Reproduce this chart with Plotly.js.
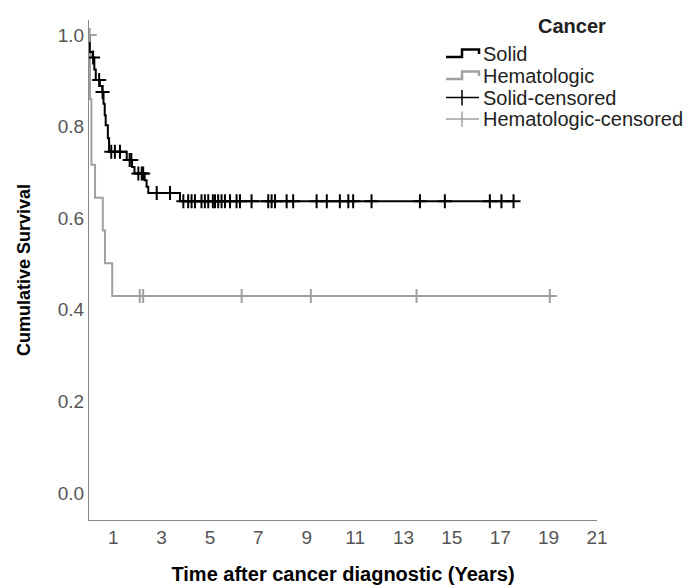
<!DOCTYPE html>
<html>
<head>
<meta charset="utf-8">
<script src="https://cdn.plot.ly/plotly-3.0.1.min.js"></script>
<style>html,body{margin:0;padding:0;background:#fff;}#chart{width:699px;height:588px;}</style>
</head>
<body>
<div id="chart"></div>
<script>
// Kaplan-Meier step curves (time in years, cumulative survival)
const solidTimes = [0, 0.03, 0.15, 0.22, 0.28, 0.45, 0.55, 0.60, 0.65, 0.69, 0.78, 0.83, 1.56, 1.78, 1.88, 2.30, 2.38, 2.45, 3.76, 17.55];
const solidSurv  = [1.0, 0.963, 0.951, 0.925, 0.902, 0.889, 0.876, 0.85, 0.825, 0.803, 0.775, 0.745, 0.727, 0.712, 0.698, 0.683, 0.669, 0.655, 0.637, 0.637];
const hemeTimes = [0, 0.04, 0.10, 0.25, 0.57, 0.66, 0.96, 19.05];
const hemeSurv  = [1.0, 0.86, 0.717, 0.645, 0.573, 0.502, 0.43, 0.43];
// censoring times
const solidCensored = [0.17, 0.42, 0.56, 0.92, 1.07, 1.28, 1.68, 1.75, 2.04, 2.18, 2.24, 2.80, 3.35,
  3.90, 4.10, 4.24, 4.38, 4.65, 4.79, 4.93, 5.12, 5.21, 5.34, 5.48, 5.62, 5.83, 6.10, 6.24, 6.72,
  7.41, 7.55, 7.69, 8.17, 8.44, 9.41, 9.83, 10.37, 10.72, 10.92, 11.68, 13.68, 14.71, 16.57, 17.05, 17.55];
const hemeCensored = [0.03, 2.10, 2.24, 6.31, 9.17, 13.54, 19.05];
const xTicks = [1, 3, 5, 7, 9, 11, 13, 15, 17, 19, 21];
const yTicks = [0.0, 0.2, 0.4, 0.6, 0.8, 1.0];
const legendTitle = 'Cancer';
const legendLabels = ['Solid', 'Hematologic', 'Solid-censored', 'Hematologic-censored'];

function stepAt(times, surv, t) {
  let v = surv[0];
  for (let i = 0; i < times.length; i++) { if (times[i] <= t) v = surv[i]; }
  return v;
}
function censorXY(ct, times, surv) {
  const x = [], y = [];
  ct.forEach(t => { x.push(t); y.push(stepAt(times, surv, t)); });
  return {x, y};
}
const sc = censorXY(solidCensored, solidTimes, solidSurv);
const hc = censorXY(hemeCensored, hemeTimes, hemeSurv);

const BLACK = '#000000', GRAY = '#a0a0a0';
const data = [
  {x: hemeTimes, y: hemeSurv, mode: 'lines', line: {shape: 'hv', color: GRAY, width: 2}, name: legendLabels[1]},
  {x: solidTimes, y: solidSurv, mode: 'lines', line: {shape: 'hv', color: BLACK, width: 2}, name: legendLabels[0]},
  {x: hc.x, y: hc.y, mode: 'markers', name: legendLabels[3],
   marker: {symbol: 'cross-thin', size: 10, color: GRAY, line: {color: GRAY, width: 2}}},
  {x: sc.x, y: sc.y, mode: 'markers', name: legendLabels[2],
   marker: {symbol: 'cross-thin', size: 10, color: BLACK, line: {color: BLACK, width: 2}}}
];

// custom legend (decoration placed in paper coordinates)
const ML = 89, MT = 20, PW = 508, PH = 500;
const PX = p => (p - ML) / PW;
const PY = p => (MT + PH - p) / PH;
const rows = [54, 76, 97.5, 119];
const colors = [BLACK, GRAY, BLACK, GRAY];
const shapes = [];
const annotations = [{
  xref: 'paper', yref: 'paper', x: PX(572), y: PY(26), xanchor: 'center', yanchor: 'middle',
  text: '<b>' + legendTitle + '</b>', showarrow: false, font: {size: 20, color: '#222'}
}];
rows.forEach((ry, i) => {
  annotations.push({
    xref: 'paper', yref: 'paper', x: PX(481), y: PY(ry), xanchor: 'left', yanchor: 'middle',
    text: legendLabels[i], showarrow: false, font: {size: 20, color: '#222'}
  });
  if (i < 2) {
    shapes.push({type: 'path', xref: 'paper', yref: 'paper',
      path: `M ${PX(446)} ${PY(ry + 3)} H ${PX(462)} V ${PY(ry - 4.5)} H ${PX(479)} V ${PY(ry)}`,
      line: {color: colors[i], width: 2.5}});
  } else {
    shapes.push({type: 'line', xref: 'paper', yref: 'paper', x0: PX(446), x1: PX(479), y0: PY(ry), y1: PY(ry),
      line: {color: colors[i], width: 1.5}});
    shapes.push({type: 'line', xref: 'paper', yref: 'paper', x0: PX(462), x1: PX(462), y0: PY(ry - 7.5), y1: PY(ry + 8),
      line: {color: colors[i], width: 1.5}});
  }
});

const layout = {
  width: 699, height: 588,
  margin: {l: ML, r: 699 - ML - PW, t: MT, b: 588 - MT - PH},
  paper_bgcolor: '#ffffff', plot_bgcolor: '#ffffff',
  font: {family: 'Liberation Sans, Arial, sans-serif', color: '#000'},
  showlegend: false,
  shapes: shapes,
  annotations: annotations,
  xaxis: {
    range: [0, 21], tickvals: xTicks, ticktext: xTicks.map(String),
    showgrid: false, zeroline: false, showline: true, linecolor: '#8a8a8a', linewidth: 1,
    ticks: '', tickfont: {size: 19, color: '#555'},
    title: {text: '<b>Time after cancer diagnostic (Years)</b>', font: {size: 20, color: '#000'}, standoff: 20}
  },
  yaxis: {
    range: [-0.059, 1.033], tickvals: yTicks, ticktext: yTicks.map(v => v.toFixed(1)),
    showgrid: false, zeroline: false, showline: true, linecolor: '#8a8a8a', linewidth: 1,
    ticks: '', tickfont: {size: 19, color: '#555'},
    title: {text: '<b>Cumulative Survival</b>', font: {size: 18, color: '#000'}, standoff: 22}
  }
};
Plotly.newPlot('chart', data, layout, {displayModeBar: false, staticPlot: true});
</script>
</body>
</html>
